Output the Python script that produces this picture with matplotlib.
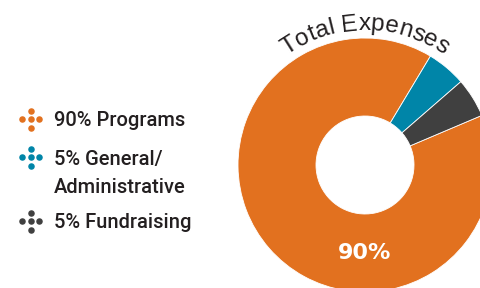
import numpy as np
import matplotlib
matplotlib.use("Agg")
import matplotlib.pyplot as plt
from matplotlib.font_manager import FontProperties, findfont, get_font

categories = ["Programs", "General/\nAdministrative", "Fundraising"]
values = [90, 5, 5]
legend_labels = ["90% Programs", "5% General/\nAdministrative", "5% Fundraising"]
colors = ["#E2711F", "#0085A8", "#404040"]
title = "Total Expenses"

W, H = 481, 288
fig = plt.figure(figsize=(W / 100, H / 100), dpi=100)
ax = fig.add_axes([0, 0, 1, 1])

cx, cy = 365, 288 - 165
R = 127
ring = 78

wedges, _ = ax.pie(values, colors=colors, startangle=23, counterclock=False,
                   radius=R, center=(cx, cy), frame=True,
                   wedgeprops=dict(width=ring, linewidth=0.6, edgecolor="white"))

ax.set_xlim(0, W)
ax.set_ylim(0, H)
ax.set_aspect("equal")
ax.axis("off")

# 90% label in the big wedge
mid_r = R - ring / 2
ax.text(cx, cy - mid_r, f"{values[0]}%", color="white", fontsize=16, fontweight="bold",
        family="DejaVu Sans", ha="center", va="center")

# curved title
fs_pt = 17.5
prop = FontProperties(family="Liberation Sans", size=fs_pt)
font = get_font(findfont(prop))
font.set_size(fs_pt, 100)
adv = []
for ch in title:
    g = font.load_char(ord(ch))
    adv.append(g.linearHoriAdvance / 65536)
total = sum(adv)
rb = 135
pre = 0.0
for ch, w in zip(title, adv):
    mid = pre + w / 2
    pre += w
    ang = np.pi / 2 + (total / 2 - mid) / rb
    x = cx + rb * np.cos(ang)
    y = cy + rb * np.sin(ang)
    ax.text(x, y, ch, fontproperties=prop, color="#231F20", ha="center", va="baseline",
            rotation=np.degrees(ang) - 90, rotation_mode="anchor")

# legend
marker_y = [169, 131, 67]
text_base = [161.5, 123, 60]
mx = 31
d = 8.5
offs = [(0, 0), (0, d), (0, -d), (-d, 0), (d, 0)]
for c, my, lab, tb in zip(colors, marker_y, legend_labels, text_base):
    ax.scatter([mx + o[0] for o in offs], [my + o[1] for o in offs], s=22, color=c,
               linewidths=0, zorder=3)
    lines = lab.split("\n")
    for k, ln in enumerate(lines):
        ax.text(54, tb - k * 28, ln, fontsize=14.5, color="#231F20", family="Roboto",
                fontweight="medium", ha="left", va="baseline")

fig.savefig("out.png", dpi=100)
